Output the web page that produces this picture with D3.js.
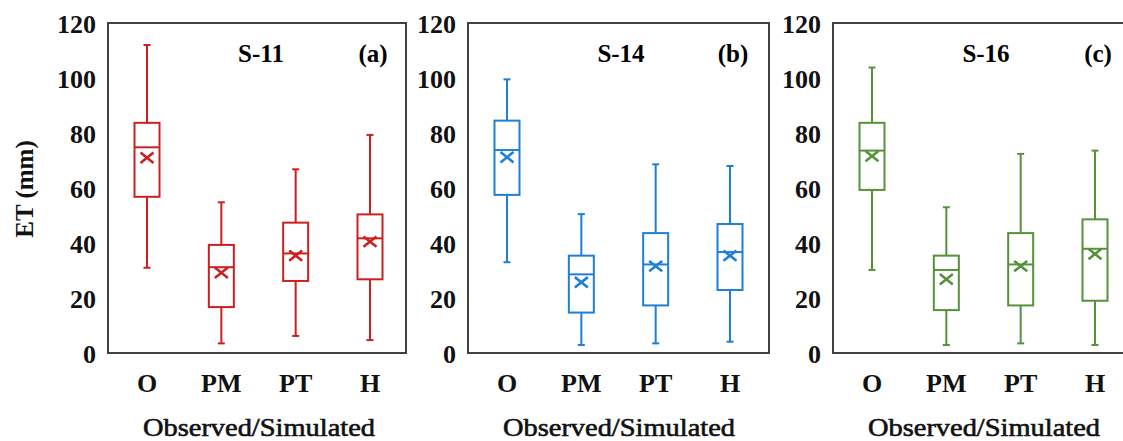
<!DOCTYPE html>
<html>
<head>
<meta charset="utf-8">
<script src="https://cdn.jsdelivr.net/npm/d3@7"></script>
<style>
  html, body { margin: 0; padding: 0; background: #ffffff; }
  svg { display: block; }
</style>
</head>
<body>
<svg id="chart" width="1123" height="441" font-family="'Liberation Serif', 'Times New Roman', serif"></svg>
<script>
// ---- Data ----
const categories = ["O", "PM", "PT", "H"];
const sites = ["S-11", "S-14", "S-16"];
const panelLetters = ["(a)", "(b)", "(c)"];
const yTicks = [0, 20, 40, 60, 80, 100, 120];

// S-11
const s11Min  = [31.0, 3.5, 6.2, 4.7];
const s11Q1   = [56.8, 16.7, 26.2, 26.8];
const s11Med  = [74.8, 31.2, 36.2, 41.7];
const s11Mean = [71.0, 29.2, 35.4, 40.5];
const s11Q3   = [83.7, 39.3, 47.4, 50.4];
const s11Max  = [112.0, 54.8, 66.8, 79.3];
// S-14
const s14Min  = [33.0, 2.9, 3.5, 4.1];
const s14Q1   = [57.5, 14.7, 17.3, 22.9];
const s14Med  = [73.8, 28.6, 32.2, 36.7];
const s14Mean = [71.2, 25.7, 31.6, 35.4];
const s14Q3   = [84.5, 35.4, 43.6, 46.9];
const s14Max  = [99.5, 50.5, 68.6, 68.0];
// S-16
const s16Min  = [30.2, 2.9, 3.5, 2.9];
const s16Q1   = [59.3, 15.6, 17.3, 19.0];
const s16Med  = [73.6, 30.2, 32.2, 37.9];
const s16Mean = [71.6, 26.8, 31.6, 36.0];
const s16Q3   = [83.7, 35.4, 43.6, 48.6];
const s16Max  = [103.8, 53.0, 72.4, 73.6];

const siteStats = [
  [s11Min, s11Q1, s11Med, s11Mean, s11Q3, s11Max],
  [s14Min, s14Q1, s14Med, s14Mean, s14Q3, s14Max],
  [s16Min, s16Q1, s16Med, s16Mean, s16Q3, s16Max]
];

// ---- Layout / style ----
const colors = ["#cc2020", "#1f7fd4", "#56923a"];
const panelLefts = [108, 468, 833];
const panelRights = [406, 769, 1131];
const plotTop = 23, plotBottom = 353;
const frameColor = "#404040";
const boxW = 25, capW = 7, markR = 6.5;

const svg = d3.select("#chart");

const y = d3.scaleLinear().domain([0, 120]).range([plotBottom, plotTop]);

sites.forEach((site, p) => {
  const L = panelLefts[p], R = panelRights[p];
  const col = colors[p];
  const [mn, q1, md, mean, q3, mx] = siteStats[p];
  const x = d3.scalePoint().domain(categories).range([L + 39, L + 262]);

  const g = svg.append("g");

  // Y tick labels
  g.selectAll("text.ytick").data(yTicks).join("text")
    .attr("class", "ytick")
    .attr("x", L - 12)
    .attr("y", d => y(d) + 1)
    .attr("text-anchor", "end")
    .attr("dominant-baseline", "central")
    .attr("font-size", 26)
    .attr("font-weight", "bold")
    .attr("fill", "#111")
    .text(d => d);

  // Frame
  g.append("rect")
    .attr("x", L).attr("y", plotTop)
    .attr("width", R - L).attr("height", plotBottom - plotTop)
    .attr("fill", "none")
    .attr("stroke", frameColor)
    .attr("stroke-width", 2);

  const rows = categories.map((c, i) => ({
    c, mn: mn[i], q1: q1[i], md: md[i], mean: mean[i], q3: q3[i], mx: mx[i]
  }));

  const bx = g.selectAll("g.box").data(rows).join("g").attr("class", "box")
    .attr("stroke", col).attr("fill", "none").attr("stroke-width", 2);

  // whiskers
  bx.append("line")
    .attr("x1", d => x(d.c)).attr("x2", d => x(d.c))
    .attr("y1", d => y(d.mx)).attr("y2", d => y(d.q3));
  bx.append("line")
    .attr("x1", d => x(d.c)).attr("x2", d => x(d.c))
    .attr("y1", d => y(d.q1)).attr("y2", d => y(d.mn));
  // caps
  bx.append("line")
    .attr("x1", d => x(d.c) - capW / 2).attr("x2", d => x(d.c) + capW / 2)
    .attr("y1", d => y(d.mx)).attr("y2", d => y(d.mx));
  bx.append("line")
    .attr("x1", d => x(d.c) - capW / 2).attr("x2", d => x(d.c) + capW / 2)
    .attr("y1", d => y(d.mn)).attr("y2", d => y(d.mn));
  // box
  bx.append("rect")
    .attr("x", d => x(d.c) - boxW / 2)
    .attr("y", d => y(d.q3))
    .attr("width", boxW)
    .attr("height", d => y(d.q1) - y(d.q3));
  // median
  bx.append("line")
    .attr("x1", d => x(d.c) - boxW / 2).attr("x2", d => x(d.c) + boxW / 2)
    .attr("y1", d => y(d.md)).attr("y2", d => y(d.md));
  // mean marker X
  bx.append("path")
    .attr("stroke-width", 2.6)
    .attr("d", d => {
      const cx = x(d.c), cy = y(d.mean);
      return `M${cx - markR},${cy - markR * 0.8}L${cx + markR},${cy + markR * 0.8}` +
             `M${cx - markR},${cy + markR * 0.8}L${cx + markR},${cy - markR * 0.8}`;
    });

  // category labels
  g.selectAll("text.cat").data(categories).join("text")
    .attr("class", "cat")
    .attr("x", d => x(d))
    .attr("y", 392)
    .attr("text-anchor", "middle")
    .attr("font-size", 26)
    .attr("font-weight", "bold")
    .attr("fill", "#111")
    .text(d => d);

  // site title and panel letter
  g.append("text")
    .attr("x", L + 153).attr("y", 62)
    .attr("text-anchor", "middle")
    .attr("font-size", 25)
    .attr("font-weight", "bold")
    .attr("fill", "#000")
    .text(site);
  g.append("text")
    .attr("x", L + 265).attr("y", 62)
    .attr("text-anchor", "middle")
    .attr("font-size", 25)
    .attr("font-weight", "bold")
    .attr("fill", "#000")
    .text(panelLetters[p]);

  // x axis title
  g.append("text")
    .attr("x", L + 151).attr("y", 436)
    .attr("text-anchor", "middle")
    .attr("font-size", 25)
    .attr("fill", "#111")
    .attr("stroke", "#111")
    .attr("stroke-width", 0.6)
    .attr("textLength", 232)
    .attr("lengthAdjust", "spacingAndGlyphs")
    .text("Observed/Simulated");
});

// Y axis title
svg.append("text")
  .attr("transform", "translate(33,189) rotate(-90)")
  .attr("text-anchor", "middle")
  .attr("font-size", 25)
  .attr("font-weight", "bold")
  .attr("fill", "#111")
  .text("ET (mm)");
</script>
</body>
</html>
